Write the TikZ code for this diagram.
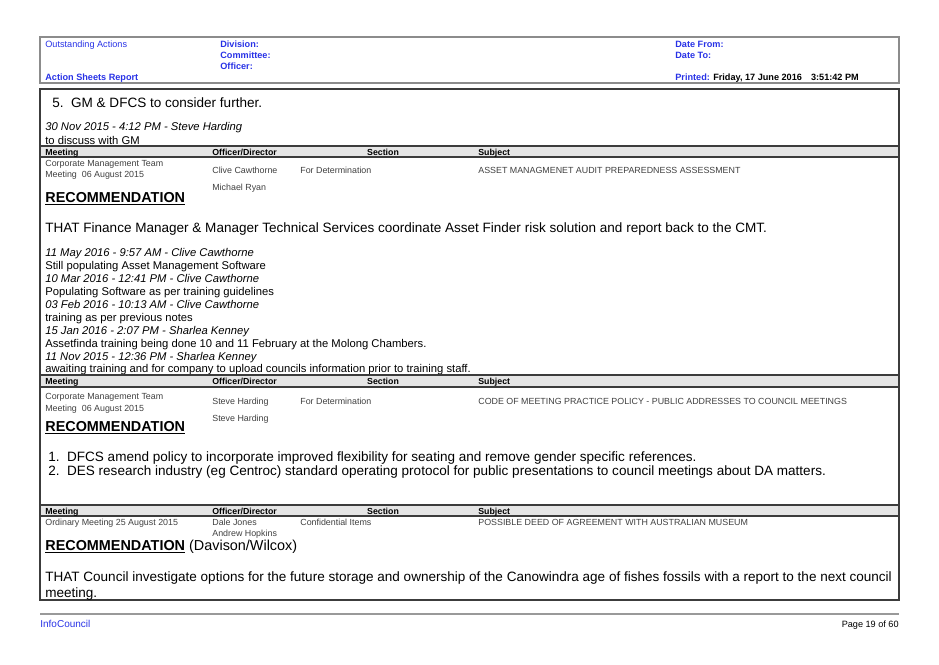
\documentclass[tikz,border=0pt]{standalone}
\usepackage{fontspec}
\setmainfont{Liberation Sans}
\definecolor{infoblue}{RGB}{40,50,230}
\definecolor{rulegray}{RGB}{60,60,60}
\newcommand\fz[1]{\fontsize{#1}{#1}\selectfont}
\tikzset{
 txt/.style = {anchor=base west, inner sep=0pt, font=\fz{6.4pt}},
 hd/.style = {txt, text=infoblue, font=\fz{5.2pt}},
 hdb/.style = {hd, font=\fz{5.2pt}\bfseries},
 cell/.style = {txt, text=black!75, font=\fz{5.05pt}},
 colhead/.style = {txt, font=\fz{5pt}\bfseries},
 note/.style = {txt, font=\fz{6.4pt}\itshape},
 big/.style = {txt, font=\fz{7.7pt}},
 rec/.style = {txt, font=\fz{8.2pt}\bfseries},
 bar/.style = {fill=black!10, draw=rulegray, line width=0.6pt}
}
\begin{document}
\begin{tikzpicture}[x=0.02cm, y=-0.02cm]
  \useasboundingbox (0,0) rectangle (939,664);
  % page header
  \draw [black!45, line width=1pt] (40,37) rectangle (899,83);
  \node [hd] (oa) at (45,47) {Outstanding Actions};
  \node [hdb] (div) at (220,47) {Division:};
  \node [hdb] (com) at (220,58) {Committee:};
  \node [hdb] (off) at (220,69) {Officer:};
  \node [hdb] (asr) at (45,80) {Action Sheets Report};
  \node [hdb] (df) at (675,47) {Date From:};
  \node [hdb] (dt) at (675,58) {Date To:};
  \node [hdb] (pr) at (675,80) {Printed: \textcolor{black}{Friday, 17 June 2016\quad 3:51:42 PM}};
  % body frame
  \draw [rulegray, line width=1pt] (40,89) rectangle (899,600);
  \node [big] (five) at (52,107) {5.\ \ GM \& DFCS to consider further.};
  \node [note] (n0) at (45,130) {30 Nov 2015 - 4:12 PM - Steve Harding};
  \node [txt] (t0) at (45,144) {to discuss with GM};
  % first item
  \draw [bar] (40,146) rectangle (899,157);
  \node [colhead] (m1) at (45,155) {Meeting};
  \node [colhead] (o1) at (212,155) {Officer/Director};
  \node [colhead, anchor=base] (s1) at (383,155) {Section};
  \node [colhead] (j1) at (478,155) {Subject};
  \node [cell] (c1a) at (45,166) {Corporate Management Team};
  \node [cell] (c1b) at (45,177) {Meeting\ \ 06 August 2015};
  \node [cell] (p1a) at (212,173) {Clive Cawthorne};
  \node [cell] (p1b) at (212,190) {Michael Ryan};
  \node [cell] (x1) at (300,173) {For Determination};
  \node [cell] (y1) at (478,173) {ASSET MANAGMENET AUDIT PREPAREDNESS ASSESSMENT};
  \node [rec] (r1) at (45,202) {\underline{RECOMMENDATION}};
  \node [big] (b1) at (45,232) {THAT Finance Manager \& Manager Technical Services coordinate Asset Finder risk solution and report back to the CMT.};
  \node [note] (h1) at (45,256) {11 May 2016 - 9:57 AM - Clive Cawthorne};
  \node [txt] (h2) at (45,269) {Still populating Asset Management Software};
  \node [note] (h3) at (45,282) {10 Mar 2016 - 12:41 PM - Clive Cawthorne};
  \node [txt] (h4) at (45,295) {Populating Software as per training guidelines};
  \node [note] (h5) at (45,308) {03 Feb 2016 - 10:13 AM - Clive Cawthorne};
  \node [txt] (h6) at (45,321) {training as per previous notes};
  \node [note] (h7) at (45,334) {15 Jan 2016 - 2:07 PM - Sharlea Kenney};
  \node [txt] (h8) at (45,347) {Assetfinda training being done 10 and 11 February at the Molong Chambers.};
  \node [note] (h9) at (45,360) {11 Nov 2015 - 12:36 PM - Sharlea Kenney};
  \node [txt] (h10) at (45,372) {awaiting training and for company to upload councils information prior to training staff.};
  % second item
  \draw [bar] (40,375) rectangle (899,387);
  \node [colhead] (m2) at (45,384) {Meeting};
  \node [colhead] (o2) at (212,384) {Officer/Director};
  \node [colhead, anchor=base] (s2) at (383,384) {Section};
  \node [colhead] (j2) at (478,384) {Subject};
  \node [cell] (c2a) at (45,399) {Corporate Management Team};
  \node [cell] (c2b) at (45,411) {Meeting\ \ 06 August 2015};
  \node [cell] (p2a) at (212,404) {Steve Harding};
  \node [cell] (p2b) at (212,421) {Steve Harding};
  \node [cell] (x2) at (300,404) {For Determination};
  \node [cell] (y2) at (478,404) {CODE OF MEETING PRACTICE POLICY - PUBLIC ADDRESSES TO COUNCIL MEETINGS};
  \node [rec] (r2) at (45,431) {\underline{RECOMMENDATION}};
  \node [big] (l1) at (48,461) {1.\ \ DFCS amend policy to incorporate improved flexibility for seating and remove gender specific references.};
  \node [big] (l2) at (48,475) {2.\ \ DES research industry (eg Centroc) standard operating protocol for public presentations to council meetings about DA matters.};
  % third item
  \draw [bar] (40,505) rectangle (899,516);
  \node [colhead] (m3) at (45,514) {Meeting};
  \node [colhead] (o3) at (212,514) {Officer/Director};
  \node [colhead, anchor=base] (s3) at (383,514) {Section};
  \node [colhead] (j3) at (478,514) {Subject};
  \node [cell] (c3a) at (45,525) {Ordinary Meeting 25 August 2015};
  \node [cell] (p3a) at (212,525) {Dale Jones};
  \node [cell] (p3b) at (212,536) {Andrew Hopkins};
  \node [cell] (x3) at (300,525) {Confidential Items};
  \node [cell] (y3) at (478,525) {POSSIBLE DEED OF AGREEMENT WITH AUSTRALIAN MUSEUM};
  \node [rec] (r3) at (45,550) {\underline{RECOMMENDATION} {\mdseries (Davison/Wilcox)}};
  \node [big] (b3a) at (45,581) {THAT Council investigate options for the future storage and ownership of the Canowindra age of fishes fossils with a report to the next council};
  \node [big] (b3b) at (45,597) {meeting.};
  % page footer
  \draw [black!40, line width=0.8pt] (40,614) -- (899,614);
  \node [hd, font=\fz{5.7pt}] (ic) at (40,627) {InfoCouncil};
  \node [txt, anchor=base east, font=\fz{5.2pt}] (pg) at (899,627) {Page 19 of 60};
\end{tikzpicture}
\end{document}
